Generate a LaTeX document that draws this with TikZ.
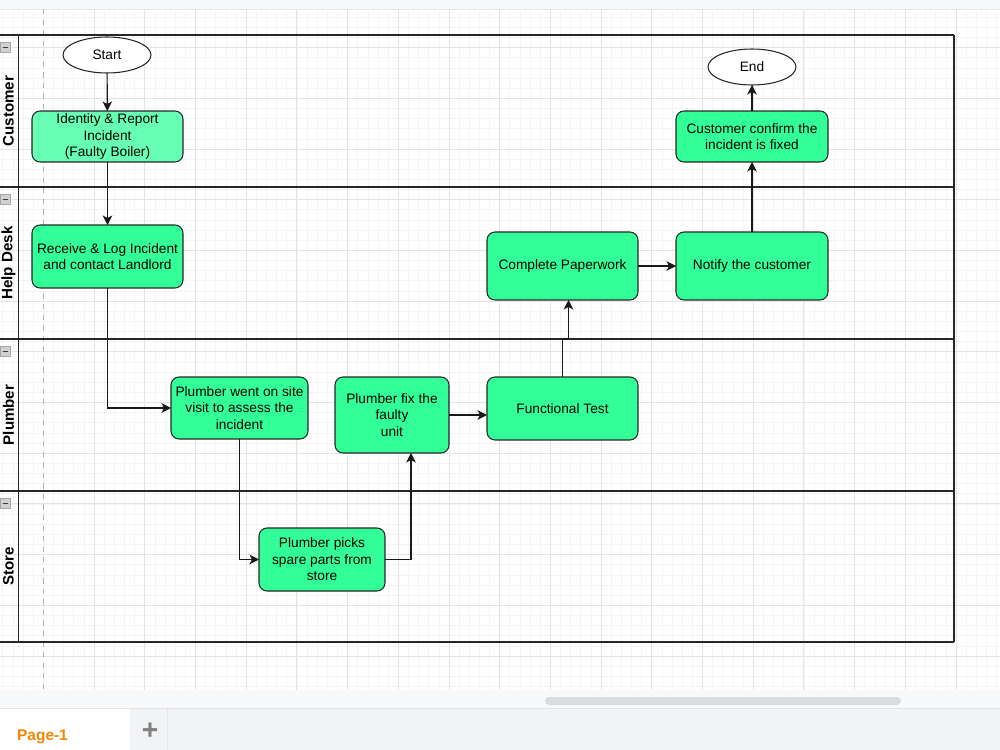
\documentclass[tikz,border=0pt]{standalone}
\usepackage{fontspec}
\setmainfont{Liberation Sans}
\usetikzlibrary{arrows.meta, shapes.geometric}
\definecolor{stepgreen}{HTML}{33FF99}
\definecolor{stepgreenlt}{HTML}{66FFB3}
\definecolor{gridminor}{HTML}{F4F4F4}
\definecolor{gridmajor}{HTML}{E4E4E4}
\definecolor{tabbar}{HTML}{F1F3F4}
\definecolor{scrollbg}{HTML}{F8F9FA}
\definecolor{thumb}{HTML}{DADCE0}
\definecolor{pageorange}{HTML}{F08705}
\tikzset{
  stepbox/.style={rectangle, rounded corners=1.6mm, draw=black!85, fill=stepgreen, line width=0.6pt,
    align=center, inner sep=0pt, outer sep=0pt, font=\fontsize{7.8}{9.4}\selectfont},
  termbox/.style={ellipse, draw=black!85, fill=white, line width=0.6pt, inner sep=0pt, outer sep=0pt,
    minimum width=17.6mm, minimum height=7.2mm, font=\fontsize{7.8}{9.4}\selectfont},
  flowarr/.style={-{Stealth[length=1.9mm, width=1.9mm, inset=0.5mm]}, line width=0.65pt, draw=black!90},
  lanelabel/.style={rotate=90, font=\bfseries\fontsize{8.6}{10}\selectfont},
  laneline/.style={draw=black!85, line width=0.8pt},
}

\begin{document}
\begin{tikzpicture}[x=0.02cm, y=-0.02cm]
\useasboundingbox (0,0) rectangle (1000,750);
\fill[white] (0,0) rectangle (1000,750);
% canvas grid
\fill[scrollbg] (0,0) rectangle (1000,9);
\draw[gridmajor] (0,9) -- (1000,9);
\foreach \i in {-4,...,94} \draw[gridminor, line width=0.4pt] ({43.4+\i*10.14},9) -- ({43.4+\i*10.14},690);
\foreach \j in {-3,...,63} \draw[gridminor, line width=0.4pt] (0,{47.6+\j*10.14}) -- (1000,{47.6+\j*10.14});
\foreach \i in {1,...,18} \draw[gridmajor, line width=0.5pt] ({43.4+\i*50.7},9) -- ({43.4+\i*50.7},690);
\foreach \j in {0,...,12} \draw[gridmajor, line width=0.5pt] (0,{47.6+\j*50.7}) -- (1000,{47.6+\j*50.7});
\draw[black!30, dashed, line width=0.5pt] (43.4,9) -- (43.4,690);

% pool and lanes
\foreach \y in {35,187,339,491,642} \draw[laneline] (0,\y) -- (954,\y);
\draw[laneline] (18.5,35) -- (18.5,642);
\draw[laneline] (954,35) -- (954,642);
\foreach \y in {35,187,339,491} {
  \filldraw[fill=black!18, draw=black!35, line width=0.3pt] (0.3,\y+7.5) rectangle (10.5,\y+17.5);
  \draw[black!75, line width=1pt] (2.5,\y+12.5) -- (8.3,\y+12.5);
}
\node[lanelabel] (lcust) at (8.5,111) {Customer};
\node[lanelabel] (lhelp) at (8.5,263) {Help Desk};
\node[lanelabel] (lplum) at (8.5,415) {Plumber};
\node[lanelabel] (lstore) at (8.5,566.5) {Store};

% steps
\node[termbox] (start) at (107,55) {Start};
\node[stepbox, fill=stepgreenlt, minimum width=30.2mm, minimum height=10.2mm] (ident) at (107.5,136.5)
  {Identity \& Report\\Incident\\(Faulty Boiler)};
\node[stepbox, minimum width=30.2mm, minimum height=12.6mm] (recv) at (107.5,256.5)
  {Receive \& Log Incident\\and contact Landlord};
\node[stepbox, minimum width=27.4mm, minimum height=12.4mm] (visit) at (239.5,408)
  {Plumber went on site\\visit to assess the\\incident};
\node[stepbox, minimum width=25.2mm, minimum height=12.6mm] (picks) at (322,559.5)
  {Plumber picks\\spare parts from\\store};
\node[stepbox, minimum width=22.8mm, minimum height=15.2mm] (fix) at (392,415)
  {Plumber fix the\\faulty\\unit};
\node[stepbox, minimum width=30.2mm, minimum height=12.6mm] (ftest) at (562.5,408.5) {Functional Test};
\node[stepbox, minimum width=30.2mm, minimum height=13.6mm] (paper) at (562.5,266) {Complete Paperwork};
\node[stepbox, minimum width=30.4mm, minimum height=13.6mm] (notify) at (752,266) {Notify the customer};
\node[stepbox, minimum width=30.4mm, minimum height=10.2mm] (confirm) at (752,136.5)
  {Customer confirm the\\incident is fixed};
\node[termbox] (end) at (752,67) {End};

% flow
\draw[flowarr] (start) -- (ident);
\draw[flowarr] (ident) -- (recv);
\draw[flowarr] (recv.south) |- (visit.west);
\draw[flowarr] (visit.south) |- (picks.west);
\draw[flowarr] (picks.east) -| ([xshift=3.8mm]fix.south);
\draw[flowarr] (fix.east) -- (fix.east -| ftest.west);
\draw[flowarr] (ftest.north) -- ++(0,-38) -| ([xshift=1.2mm]paper.south);
\draw[flowarr] (paper) -- (notify);
\draw[flowarr] (notify) -- (confirm);
\draw[flowarr] (confirm) -- (end);

% page tabs
\fill[scrollbg] (0,690) rectangle (1000,708);
\fill[thumb, rounded corners=0.8mm] (545,697) rectangle (901,705);
\fill[tabbar] (0,708) rectangle (1000,750);
\draw[gridmajor] (0,708) -- (1000,708);
\fill[white] (0,708.5) rectangle (130,750);
\draw[gridmajor] (167,708.5) -- (167,750);
\node[text=pageorange, font=\bfseries\fontsize{8.8}{10}\selectfont] (page) at (42.5,737) {Page-1};
\node[text=black!50, font=\bfseries\fontsize{16}{16}\selectfont] (addpage) at (150,731.5) {+};
\end{tikzpicture}
\end{document}
